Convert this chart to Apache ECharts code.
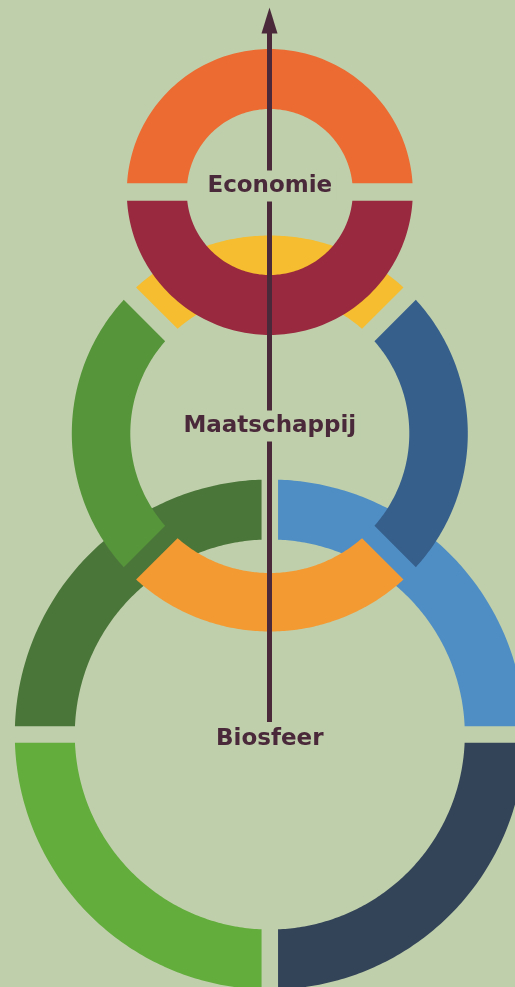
<!DOCTYPE html>
<html><head><meta charset="utf-8">
<script src="https://cdn.jsdelivr.net/npm/echarts@6/dist/echarts.min.js"></script>
<style>html,body{margin:0;padding:0;background:#bfcfab}#c{width:515px;height:987px}</style>
</head><body><div id="c"></div>
<script>
// ---- data ----
const ringNames = ['Economie', 'Maatschappij', 'Biosfeer'];
// segment angles in degrees, counter-clockwise from 3 o'clock
const economieAngles = [[0, 180], [180, 360]];
const economieColors = ['#eb6b32', '#98293f'];
const maatschappijAngles = [[45, 135], [135, 225], [225, 315], [315, 405]];
const maatschappijColors = ['#f5bd2f', '#56953a', '#f39a33', '#365f8c'];
const biosfeerAngles = [[0, 90], [90, 180], [180, 270], [270, 360]];
const biosfeerColors = ['#4f8ec4', '#4b763a', '#62ad3c', '#344458'];
const arrowTrack = [722, 20.5]; // start / end of the upward arrow

// ---- layout (positions & sizes) ----
const BG = '#bfcfab';
const INK = '#4a2a3a';
const AXIS_X = 269.5;
const layout = {
  Economie:     { cx: 269.8, cy: 192,   r0: 83,    r1: 143, gap: 17.5, labelY: 186,   pad: [4.5, 4, 3.5, 4] },
  Maatschappij: { cx: 269.8, cy: 433.5, r0: 139.5, r1: 198, gap: 17.5, labelY: 426,   pad: [6.5, 4, 1.5, 4] },
  Biosfeer:     { cx: 269.8, cy: 734.5, r0: 195,   r1: 255, gap: 16.5, labelY: 739,   pad: [5.5, 4, 1, 4] }
};

const D = Math.PI / 180;
function ringRenderer(g) {
  return function (params, api) {
    const a0 = api.value(0) * D, a1 = api.value(1) * D;
    const c = api.coord([g.cx, g.cy]);
    const R = api.size([g.r1, 0])[0], r = api.size([g.r0, 0])[0];
    const h = g.gap / 2;
    const pts = [];
    const N = 120;
    const o0 = a0 + Math.asin(h / R), o1 = a1 - Math.asin(h / R);
    for (let i = 0; i <= N; i++) {
      const t = o0 + (o1 - o0) * i / N;
      pts.push([c[0] + R * Math.cos(t), c[1] - R * Math.sin(t)]);
    }
    const i0 = a0 + Math.asin(h / r), i1 = a1 - Math.asin(h / r);
    for (let i = N; i >= 0; i--) {
      const t = i0 + (i1 - i0) * i / N;
      pts.push([c[0] + r * Math.cos(t), c[1] - r * Math.sin(t)]);
    }
    return { type: 'polygon', shape: { points: pts }, style: { fill: api.visual('color') } };
  };
}
function ringSeries(name, angles, colors, z) {
  return {
    type: 'custom', name: name, coordinateSystem: 'cartesian2d', silent: true, z: z,
    renderItem: ringRenderer(layout[name]),
    data: angles.map((a, i) => ({ value: a, itemStyle: { color: colors[i] } }))
  };
}

const chart = echarts.init(document.getElementById('c'), null, { renderer: 'canvas' });
chart.setOption({
  backgroundColor: BG,
  animation: false,
  grid: { left: 0, right: 0, top: 0, bottom: 0 },
  xAxis: { type: 'value', min: 0, max: 515, show: false },
  yAxis: { type: 'value', min: 0, max: 987, inverse: true, show: false },
  series: [
    ringSeries('Biosfeer', biosfeerAngles, biosfeerColors, 1),
    ringSeries('Maatschappij', maatschappijAngles, maatschappijColors, 2),
    ringSeries('Economie', economieAngles, economieColors, 3),
    {
      type: 'line', z: 5, silent: true,
      data: arrowTrack.map(y => [AXIS_X, y]),
      lineStyle: { color: INK, width: 5 },
      itemStyle: { color: INK },
      showSymbol: true,
      symbol: (v, p) => p.dataIndex === arrowTrack.length - 1 ? 'triangle' : 'none',
      symbolSize: [16, 26]
    },
    {
      type: 'scatter', z: 10, silent: true,
      symbol: 'circle', symbolSize: 1, itemStyle: { color: 'rgba(0,0,0,0)', opacity: 1 },
      labelLayout: { hideOverlap: false },
      data: ringNames.map(n => ({ name: n, value: [layout[n].cx, layout[n].labelY],
        label: { padding: layout[n].pad } })),
      label: {
        show: true, position: 'inside', formatter: '{b}', opacity: 1,
        fontFamily: 'DejaVu Sans', fontWeight: 'bold', fontSize: 23, lineHeight: 23,
        color: INK, backgroundColor: BG
      }
    }
  ]
});
</script>
</body></html>
